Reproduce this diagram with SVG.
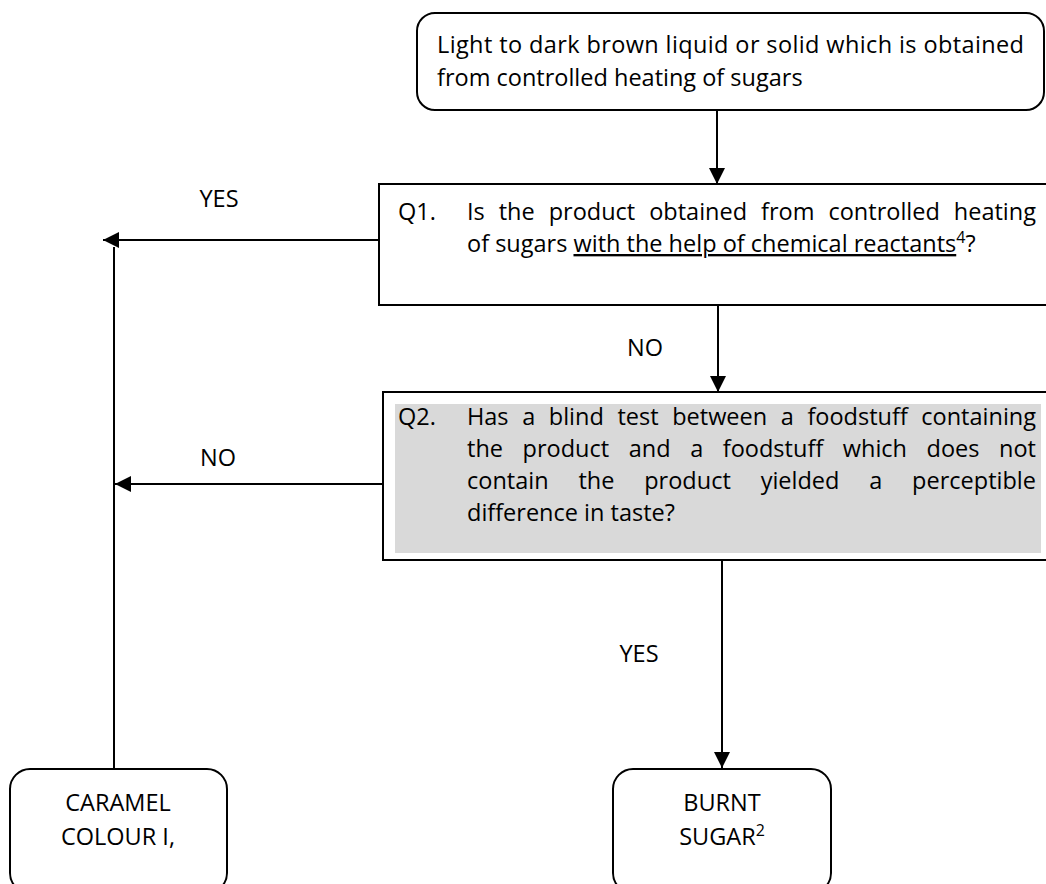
<svg xmlns="http://www.w3.org/2000/svg" width="1046" height="884" viewBox="0 0 1046 884">
<style>
text{font-family:"Open Sans","Liberation Sans",sans-serif;font-size:23.5px;fill:#000}
.box{fill:#fff;stroke:#000;stroke-width:2}
.c{text-anchor:middle}
.ln{stroke:#000;stroke-width:2;fill:none}
.sup{font-size:16px}
</style>
<defs>
<marker id="ah" markerUnits="userSpaceOnUse" markerWidth="18" markerHeight="16" refX="16" refY="8" orient="auto">
<path d="M0,0 L16,8 L0,16 Z" fill="#000"/>
</marker>
</defs>
<rect width="1046" height="884" fill="#fff"/>
<g id="connectors">
<line class="ln" x1="717" y1="110" x2="717" y2="184" marker-end="url(#ah)"/>
<line class="ln" x1="379" y1="240" x2="103" y2="240" marker-end="url(#ah)"/>
<line class="ln" x1="718" y1="305" x2="718" y2="392" marker-end="url(#ah)"/>
<line class="ln" x1="383" y1="484" x2="115" y2="484" marker-end="url(#ah)"/>
<line class="ln" x1="114" y1="769" x2="114" y2="247"/>
<line class="ln" x1="722" y1="560" x2="722" y2="768" marker-end="url(#ah)"/>
<text class="c" x="219" y="207">YES</text>
<text class="c" x="645" y="356">NO</text>
<text class="c" x="218" y="466">NO</text>
<text class="c" x="639" y="662">YES</text>
</g>
<g id="start">
<rect class="box" x="417" y="13" width="627" height="97" rx="18"/>
<text x="437" y="53" textLength="587" lengthAdjust="spacing">Light to dark brown liquid or solid which is obtained</text>
<text x="437" y="86">from controlled heating of sugars</text>
</g>
<g id="q1">
<rect class="box" x="379" y="184" width="680" height="121"/>
<text x="398" y="220">Q1.</text>
<text x="467" y="220" word-spacing="7.8" textLength="569" lengthAdjust="spacing">Is the product obtained from controlled heating</text>
<text x="467" y="252">of sugars <tspan text-decoration="underline">with the help of chemical reactants</tspan><tspan class="sup" dy="-9">4</tspan><tspan dy="9">?</tspan></text>
</g>
<g id="q2">
<rect class="box" x="383" y="392" width="680" height="168"/>
<rect x="395" y="404" width="646" height="149" fill="#d9d9d9"/>
<text x="398" y="425">Q2.</text>
<text x="467" y="425" word-spacing="7.5" textLength="569" lengthAdjust="spacing">Has a blind test between a foodstuff containing</text>
<text x="467" y="457" word-spacing="13.4" textLength="569" lengthAdjust="spacing">the product and a foodstuff which does not</text>
<text x="467" y="489" word-spacing="23.7" textLength="569" lengthAdjust="spacing">contain the product yielded a perceptible</text>
<text x="467" y="521">difference in taste?</text>
</g>
<g id="caramel">
<rect class="box" x="10" y="769" width="217" height="124" rx="20"/>
<text class="c" x="118" y="811">CARAMEL</text>
<text class="c" x="118" y="845">COLOUR I,</text>
</g>
<g id="burnt">
<rect class="box" x="613" y="769" width="218" height="124" rx="20"/>
<text class="c" x="722" y="811">BURNT</text>
<text class="c" x="722" y="845">SUGAR<tspan class="sup" dy="-9">2</tspan></text>
</g>
</svg>
